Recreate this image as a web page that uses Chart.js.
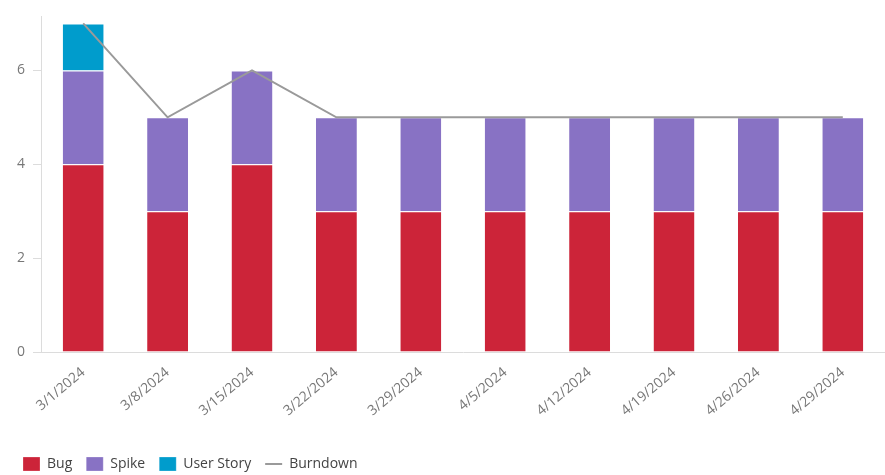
<!DOCTYPE html>
<html>
<head>
<meta charset="utf-8">
<script src="https://cdn.jsdelivr.net/npm/chart.js@4"></script>
<style>
  html, body { margin: 0; padding: 0; background: #fff; }
  #wrap { width: 885px; height: 475px; }
</style>
</head>
<body>
<div id="wrap"><canvas id="burndown"></canvas></div>
<script>
const dates = ['3/1/2024', '3/8/2024', '3/15/2024', '3/22/2024', '3/29/2024', '4/5/2024', '4/12/2024', '4/19/2024', '4/26/2024', '4/29/2024'];
const bug = [4, 3, 4, 3, 3, 3, 3, 3, 3, 3];
const spike = [2, 2, 2, 2, 2, 2, 2, 2, 2, 2];
const userStory = [1, 0, 0, 0, 0, 0, 0, 0, 0, 0];
const burndown = [7, 5, 6, 5, 5, 5, 5, 5, 5, 5];
const yTicks = [0, 2, 4, 6];
const legendOrder = ['Bug', 'Spike', 'User Story', 'Burndown'];

Chart.defaults.font.family = '"Open Sans", "Noto Sans", sans-serif';
Chart.defaults.color = '#666';

// nudge the legend to where the original sits
const legendShift = {
    id: 'legendShift',
    afterLayout: c => {
        const lg = c.legend;
        lg.top += 6; lg.bottom += 6;
        lg.left += 9; lg.right += 9;
    }
};

const ctx = document.getElementById('burndown');
const chrt = new Chart(ctx, {
    type: 'bar',
    data: {
        labels: dates,
        datasets: [{
            type: 'line',
            label: 'Burndown',
            data: burndown,
            borderColor: '#9a9a9a',
            backgroundColor: '#9a9a9a',
            borderWidth: 2,
            pointRadius: 0,
            pointStyle: 'line',
            tension: 0,
            order: 0
        }, {
            label: 'Bug',
            data: bug,
            backgroundColor: '#cc2439',
            borderColor: '#ffffff',
            borderWidth: { top: 1 },
            pointStyle: 'rect',
            stack: 's',
            order: 1
        }, {
            label: 'Spike',
            data: spike,
            backgroundColor: '#8872c4',
            borderColor: '#ffffff',
            borderWidth: { top: 1 },
            pointStyle: 'rect',
            stack: 's',
            order: 1
        }, {
            label: 'User Story',
            data: userStory,
            backgroundColor: '#009ccc',
            borderColor: '#ffffff',
            borderWidth: { top: 1 },
            pointStyle: 'rect',
            stack: 's',
            order: 1
        }]
    },
    options: {
        responsive: true,
        maintainAspectRatio: false,
        animation: false,
        datasets: {
            bar: { categoryPercentage: 1, barPercentage: 0.485 }
        },
        layout: { padding: { top: 0, right: 0, left: 0, bottom: 0 } },
        scales: {
            x: {
                stacked: true,
                grid: { display: false },
                border: { display: true, color: '#dcdcdc' },
                afterFit: s => { s.height = 85; },
                ticks: {
                    minRotation: 40,
                    maxRotation: 40,
                    padding: 4,
                    color: '#777',
                    font: { size: 14 }
                }
            },
            y: {
                stacked: true,
                min: 0,
                max: 7.15,
                afterBuildTicks: s => {
                    s.ticks = yTicks.map(v => ({ value: v }));
                },
                afterFit: s => { s.width = 41; },
                grid: { drawOnChartArea: false, drawTicks: true, tickLength: 8, color: '#dcdcdc' },
                border: { display: true, color: '#dcdcdc' },
                ticks: { color: '#777', padding: 8, font: { size: 14 } }
            }
        },
        plugins: {
            tooltip: { enabled: false },
            legend: {
                position: 'bottom',
                align: 'start',
                labels: {
                    usePointStyle: true,
                    pointStyleWidth: 17,
                    boxHeight: 15,
                    padding: 14,
                    color: '#444',
                    font: { size: 14 },
                    sort: (a, b) => legendOrder.indexOf(a.text) - legendOrder.indexOf(b.text)
                }
            }
        }
    },
    plugins: [legendShift]
});
</script>
</body>
</html>
